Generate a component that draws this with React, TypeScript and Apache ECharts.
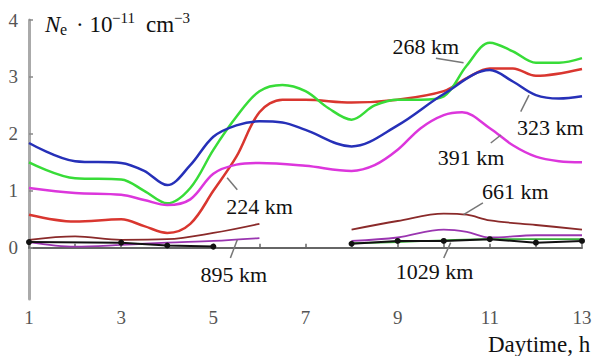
import React, { useEffect, useRef } from "react";
import * as echarts from "echarts";

// [hour, Ne*1e-11]
const red224: [number, number][] = [[1,0.58],[2,0.46],[3,0.5],[3.5,0.38],[4,0.26],[4.5,0.42],[5,1.0],[5.5,1.6],[6,2.38],[6.5,2.6],[7,2.6],[8,2.55],[9,2.6],[10,2.75],[10.5,2.98],[11,3.15],[11.5,3.15],[12,3.02],[13,3.14]];
const green268: [number, number][] = [[1,1.5],[2,1.22],[3,1.2],[3.5,1.0],[4,0.78],[4.5,1.05],[5,1.72],[5.5,2.3],[6,2.75],[6.5,2.86],[7,2.75],[7.5,2.45],[8,2.25],[8.5,2.5],[9,2.6],[9.5,2.6],[10,2.66],[10.5,3.2],[11,3.6],[11.5,3.45],[12,3.25],[12.5,3.25],[13,3.33]];
const blue323: [number, number][] = [[1,1.84],[2,1.52],[3,1.49],[3.5,1.35],[4,1.1],[4.5,1.45],[5,1.95],[5.5,2.15],[6,2.22],[6.5,2.2],[7,2.07],[8,1.78],[9,2.15],[10,2.7],[11,3.12],[11.5,2.92],[12,2.68],[12.5,2.62],[13,2.66]];
const magenta391: [number, number][] = [[1,1.05],[2,0.96],[3,0.93],[3.5,0.84],[4,0.75],[4.5,0.85],[5,1.3],[5.5,1.46],[6,1.49],[7,1.44],[8,1.35],[8.5,1.45],[9,1.72],[9.5,2.1],[10,2.33],[10.4,2.38],[11,2.1],[11.5,1.8],[12,1.6],[12.5,1.52],[13,1.5]];
const brownAM: [number, number][] = [[1,0.14],[2,0.2],[3,0.14],[4,0.15],[5,0.26],[6,0.42]];
const brownPM: [number, number][] = [[8,0.32],[9,0.47],[10,0.6],[10.5,0.58],[11,0.48],[12,0.4],[13,0.32]];
const purpleAM: [number, number][] = [[1,0.1],[2,0.02],[3,0.05],[4,0.09],[5,0.12],[6,0.17]];
const purplePM: [number, number][] = [[8,0.12],[9,0.18],[10,0.32],[10.5,0.28],[11,0.18],[12,0.22],[13,0.22]];
const greenPM: [number, number][] = [[8,0.08],[9,0.1],[10,0.13],[11,0.15],[12,0.15],[13,0.15]];
const blackAM: [number, number][] = [[1,0.1],[3,0.09],[4,0.04],[5,0.02]];
const blackPM: [number, number][] = [[8,0.07],[9,0.12],[10,0.12],[11,0.15],[12,0.09],[13,0.12]];

const yTicks = [0, 1, 2, 3, 4];

// label text, text anchor (left-middle), leader line from -> to (data coords)
const annotations: { text: string; at: [number, number]; from: [number, number]; to: [number, number] }[] = [
  { text: "268 km", at: [8.89, 3.53], from: [9.83, 3.33], to: [10.43, 3.25] },
  { text: "323 km", at: [11.59, 2.12], from: [11.67, 2.39], to: [11.85, 2.68] },
  { text: "391 km", at: [9.87, 1.58], from: [11.02, 1.84], to: [11.24, 1.98] },
  { text: "224 km", at: [5.28, 0.72], from: [5.52, 1.02], to: [5.3, 1.23] },
  { text: "661 km", at: [10.83, 0.98], from: [10.85, 0.79], to: [10.43, 0.58] },
  { text: "895 km", at: [4.72, -0.47], from: [5.37, -0.18], to: [5.52, 0.14] },
  { text: "1029 km", at: [8.96, -0.42], from: [10.0, -0.18], to: [10.15, 0.09] },
];

const SERIF = "Liberation Serif";

export default function App() {
  const ref = useRef<HTMLDivElement>(null);
  useEffect(() => {
    document.body.style.margin = "0";
    const chart = echarts.init(ref.current!, undefined, { renderer: "svg" });
    const line = (data: [number, number][], color: string, width: number, smooth: number | boolean = 0.35, symbol = false) => ({
      type: "line",
      data,
      smooth,
      showSymbol: symbol,
      symbol: "circle",
      symbolSize: 6,
      itemStyle: { color },
      lineStyle: { color, width },
      z: 2,
    });
    chart.setOption({
      animation: false,
      grid: { left: 29, right: 23, top: 20, bottom: 57 },
      xAxis: {
        type: "value",
        min: 1,
        max: 13,
        interval: 1,
        splitLine: { show: false },
        axisLine: { lineStyle: { color: "#666", width: 2 } },
        axisTick: { inside: true, length: 4, lineStyle: { color: "#666", width: 1.5 } },
        axisLabel: {
          margin: 9,
          fontFamily: SERIF,
          fontSize: 19,
          color: "#555",
          formatter: (v: number) => (v % 2 === 1 ? String(v) : ""),
        },
      },
      yAxis: {
        type: "value",
        min: -0.9,
        max: 4,
        splitLine: { show: false },
        axisLine: { show: true, lineStyle: { color: "#aaa", width: 3 } },
        axisTick: { show: true, inside: true, length: 4, customValues: yTicks, lineStyle: { color: "#888", width: 1.5 } },
        axisLabel: { customValues: yTicks, margin: 11, fontFamily: SERIF, fontSize: 19, color: "#555" },
      },
      series: [
        line(red224, "#d9362f", 2.5),
        line(green268, "#38dc38", 2.5),
        line(blue323, "#2630b8", 2.5),
        line(magenta391, "#dc36dc", 2.5),
        line(brownAM, "#8a2a2a", 1.8),
        line(brownPM, "#8a2a2a", 1.8),
        line(purpleAM, "#9a35b0", 1.8),
        line(purplePM, "#9a35b0", 1.8),
        line(greenPM, "#3aaa3a", 1.8),
        line(blackAM, "#111", 2, false, true),
        line(blackPM, "#111", 2, false, true),
      ],
    });

    const graphics: any[] = [];
    annotations.forEach((a) => {
      const p = chart.convertToPixel({ gridIndex: 0 }, a.at) as number[];
      const f = chart.convertToPixel({ gridIndex: 0 }, a.from) as number[];
      const t = chart.convertToPixel({ gridIndex: 0 }, a.to) as number[];
      graphics.push({
        type: "line",
        shape: { x1: f[0], y1: f[1], x2: t[0], y2: t[1] },
        style: { stroke: "#777", lineWidth: 1.5 },
        z: 5,
      });
      graphics.push({
        type: "text",
        x: p[0],
        y: p[1],
        style: { text: a.text, fontFamily: SERIF, fontSize: 22, fill: "#111", align: "left", verticalAlign: "middle" },
        z: 6,
      });
    });
    const tstyle = (text: string, size: number, italic = false) => ({
      text, fontFamily: SERIF, fontSize: size, fill: "#111", fontStyle: italic ? "italic" : "normal",
      align: "left", verticalAlign: "middle",
    });
    graphics.push(
      { type: "text", x: 45, y: 24, style: tstyle("N", 23, true) },
      { type: "text", x: 60, y: 29, style: tstyle("e", 16) },
      { type: "text", x: 76, y: 24, style: tstyle("· 10", 23) },
      { type: "text", x: 112, y: 18, style: tstyle("−11", 15) },
      { type: "text", x: 146, y: 24, style: tstyle("cm", 23) },
      { type: "text", x: 174, y: 18, style: tstyle("−3", 15) },
      { type: "text", x: 488, y: 344, style: tstyle("Daytime, h", 23) }
    );
    chart.setOption({ graphic: graphics });
    return () => chart.dispose();
  }, []);
  return <div ref={ref} style={{ width: 605, height: 356 }} />;
}
